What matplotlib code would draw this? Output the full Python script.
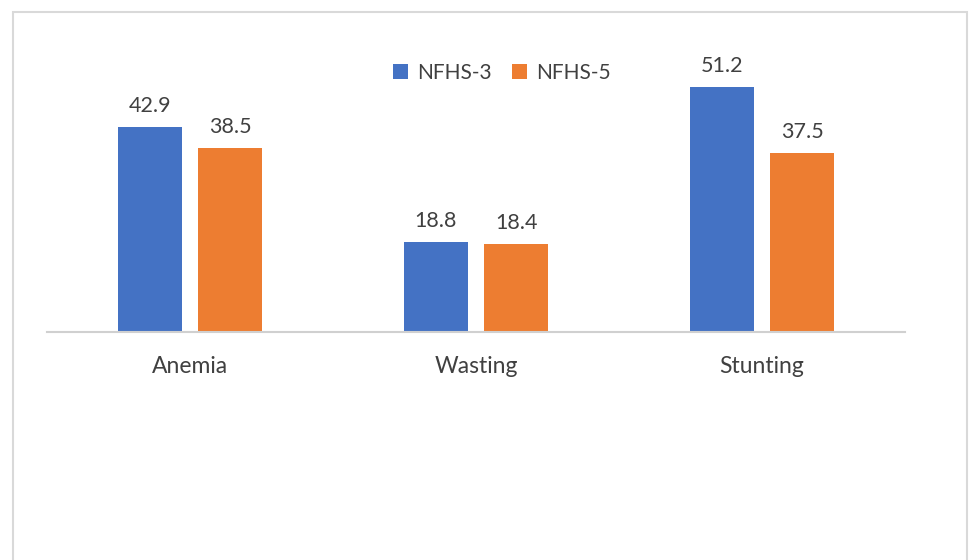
import matplotlib.pyplot as plt
import numpy as np
from matplotlib.patches import Rectangle

categories = ['Anemia', 'Wasting', 'Stunting']
nfhs3 = [42.9, 18.8, 51.2]
nfhs5 = [38.5, 18.4, 37.5]

blue = '#4472c4'
orange = '#ed7d31'
text_col = '#404040'

plt.rcParams['font.family'] = ['Lato', 'DejaVu Sans']

fig = plt.figure(figsize=(9.69, 5.6), dpi=100)
ax = fig.add_axes([47/969, (560-332)/560, 858/969, 287/560])

x = np.arange(len(categories))
w = 0.224
b1 = ax.bar(x - 0.141, nfhs3, width=w, color=blue, label='NFHS-3')
b2 = ax.bar(x + 0.141, nfhs5, width=w, color=orange, label='NFHS-5')

# value labels
for bars in (b1, b2):
    ax.bar_label(bars, fmt='%.1f', padding=8, fontsize=15.5, color=text_col)

ax.set_xlim(-0.5, 2.5)
ax.set_ylim(0, 60)
ax.set_xticks(x, categories)
ax.tick_params(axis='x', length=0, pad=17, labelsize=16.5, labelcolor=text_col)
ax.set_yticks([])
for s in ['top', 'right', 'left']:
    ax.spines[s].set_visible(False)
ax.spines['bottom'].set_color('#d0d0d0')
ax.spines['bottom'].set_linewidth(1.5)

ax.legend(loc='center', bbox_to_anchor=(502/969, 1 - 73/560), bbox_transform=fig.transFigure,
          ncol=2, frameon=False, fontsize=15, labelcolor=text_col,
          handlelength=0.7, handleheight=0.7, handletextpad=0.45, columnspacing=1.0)

# light grey chart border
fig.patches.append(Rectangle((13/969, -0.05), 954/969, 1.05 - 12/560, transform=fig.transFigure,
                             fill=False, edgecolor='#d9d9d9', linewidth=1.5))

fig.savefig('out.png', dpi=100)
